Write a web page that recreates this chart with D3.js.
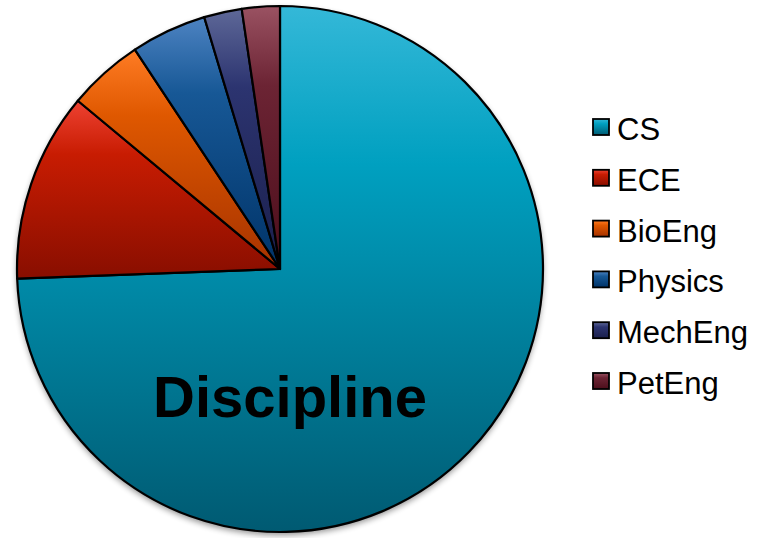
<!DOCTYPE html>
<html>
<head>
<meta charset="utf-8">
<script src="https://cdn.jsdelivr.net/npm/d3@7"></script>
<style>
  body { margin: 0; background: #fff; }
  svg { display: block; }
  text { font-family: "Liberation Sans", Arial, sans-serif; }
</style>
</head>
<body>
<div id="chart"></div>
<script>
var svgWidth = 758;
var svgHeight = 538;

// data
var categories = ["CS", "ECE", "BioEng", "Physics", "MechEng", "PetEng"];
var counts = [32, 5, 2, 2, 1, 1];
var chartTitle = "Discipline";

// top / middle / bottom gradient stops for each slice
var topColors = ["#34b8d8", "#ee4232", "#ff7c24", "#4d83c2", "#5e6898", "#9a5262"];
var midColors = ["#00a0c0", "#c81c02", "#df5800", "#175896", "#2c3470", "#6c2434"];
var botColors = ["#005a72", "#880e00", "#a63200", "#003368", "#1a1f4c", "#4c0e1b"];

var cx = 280, cy = 269, radius = 263;

var svg = d3.select("#chart")
    .append("svg")
    .attr("width", svgWidth)
    .attr("height", svgHeight);

var defs = svg.append("defs");

// soft drop shadow round the pie
var shadow = defs.append("filter")
    .attr("id", "shadow")
    .attr("x", "-10%").attr("y", "-10%")
    .attr("width", "120%").attr("height", "120%");
shadow.append("feGaussianBlur").attr("in", "SourceAlpha").attr("stdDeviation", 3);
shadow.append("feOffset").attr("dx", 0).attr("dy", 3).attr("result", "blur");
shadow.append("feComponentTransfer").append("feFuncA").attr("type", "linear").attr("slope", 0.45);
var merge = shadow.append("feMerge");
merge.append("feMergeNode");
merge.append("feMergeNode").attr("in", "SourceGraphic");

categories.forEach(function (c, i) {
    var g = defs.append("linearGradient")
        .attr("id", "grad" + i)
        .attr("x1", 0).attr("y1", 0)
        .attr("x2", 0).attr("y2", 1);
    g.append("stop").attr("offset", "0%").attr("stop-color", topColors[i]);
    g.append("stop").attr("offset", "30%").attr("stop-color", midColors[i]);
    g.append("stop").attr("offset", "100%").attr("stop-color", botColors[i]);
});

var pie = d3.pie()
    .sort(null)
    .value(d => d);

var arc = d3.arc()
    .innerRadius(0)
    .outerRadius(radius);

var pieGroup = svg.append("g")
    .attr("transform", `translate(${cx}, ${cy})`);

// shadow disc behind the slices
pieGroup.append("circle")
    .attr("r", radius)
    .attr("fill", "#fff")
    .attr("filter", "url(#shadow)");

pieGroup.selectAll("path.slice")
    .data(pie(counts))
    .enter()
    .append("path")
    .attr("class", "slice")
    .attr("d", arc)
    .attr("fill", (d, i) => `url(#grad${i})`)
    .attr("stroke", "#000")
    .attr("stroke-width", 2.2)
    .attr("stroke-linejoin", "round");

// title inside the big slice
svg.append("text")
    .attr("x", 290)
    .attr("y", 417)
    .attr("text-anchor", "middle")
    .style("font-size", "58px")
    .style("font-weight", "bold")
    .attr("fill", "#000")
    .text(chartTitle);

// legend (rows positioned on text baselines)
var legendY = d3.scalePoint()
    .domain(categories)
    .range([140, 394]);

var legend = svg.selectAll("g.legend")
    .data(categories)
    .enter()
    .append("g")
    .attr("class", "legend")
    .attr("transform", d => `translate(593, ${legendY(d)})`);

legend.append("rect")
    .attr("x", 0)
    .attr("y", -21)
    .attr("width", 16)
    .attr("height", 16)
    .attr("fill", (d, i) => `url(#grad${i})`)
    .attr("stroke", "#000")
    .attr("stroke-width", 1.8);

legend.append("text")
    .attr("x", 24)
    .attr("y", 0)
    .style("font-size", "31px")
    .attr("fill", "#000")
    .text(d => d);
</script>
</body>
</html>
